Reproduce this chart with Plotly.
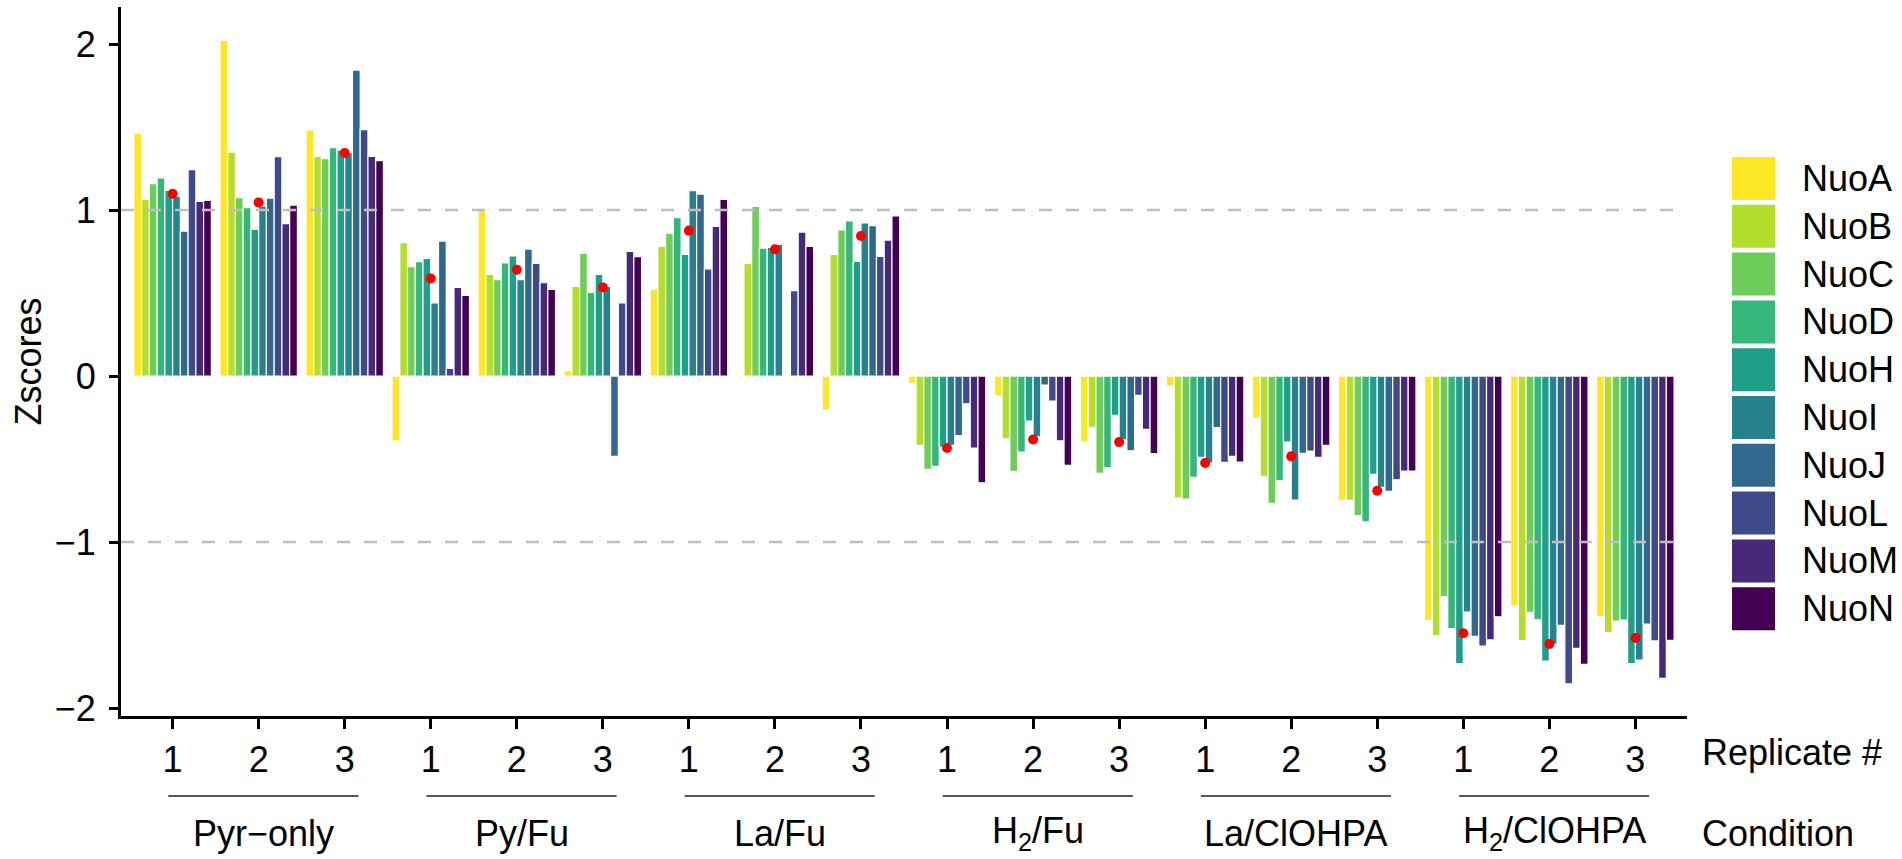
import plotly.graph_objects as go

# ---------------- data ----------------
conditions = ["Pyr\u2212only", "Py/Fu", "La/Fu", "H<sub>2</sub>/Fu", "La/ClOHPA", "H<sub>2</sub>/ClOHPA"]
replicates = ["1", "2", "3"]
genes = ["NuoA", "NuoB", "NuoC", "NuoD", "NuoH", "NuoI", "NuoJ", "NuoL", "NuoM", "NuoN"]
gene_colors = ["#FDE725", "#B4DE2C", "#6DCD59", "#35B779", "#1F9E89",
               "#26828E", "#31688E", "#3E4A89", "#482878", "#440154"]

nuoA = [1.462, 2.022, 1.482, -0.392, 1.000, 0.032, 0.522, 0.004, -0.205, -0.044, -0.118, -0.398, -0.060, -0.255, -0.749, -1.474, -1.386, -1.450]
nuoB = [1.064, 1.349, 1.323, 0.803, 0.612, 0.540, 0.783, 0.679, 0.733, -0.418, -0.378, -0.309, -0.735, -0.608, -0.749, -1.564, -1.594, -1.546]
nuoC = [1.159, 1.074, 1.309, 0.659, 0.580, 0.739, 0.861, 1.022, 0.881, -0.562, -0.574, -0.586, -0.741, -0.767, -0.841, -1.329, -1.424, -1.476]
nuoD = [1.193, 1.014, 1.376, 0.689, 0.681, 0.504, 0.954, 0.771, 0.934, -0.544, -0.458, -0.552, -0.610, -0.631, -0.878, -1.522, -1.468, -1.470]
nuoH = [1.118, 0.884, 1.361, 0.709, 0.723, 0.612, 0.733, 0.775, 0.691, -0.430, -0.271, -0.237, -0.490, -0.398, -0.592, -1.733, -1.717, -1.733]
nuoI = [1.084, 1.024, 1.345, 0.440, 0.580, 0.540, 1.116, 0.793, 0.922, -0.418, -0.367, -0.384, -0.524, -0.747, -0.671, -1.422, -1.617, -1.711]
nuoJ = [0.873, 1.072, 1.843, 0.813, 0.765, -0.484, 1.096, 0.006, 0.906, -0.359, -0.054, -0.450, -0.311, -0.466, -0.695, -1.568, -1.502, -1.494]
nuoL = [1.243, 1.321, 1.484, 0.046, 0.679, 0.440, 0.645, 0.514, 0.721, -0.167, -0.151, -0.116, -0.520, -0.452, -0.625, -1.627, -1.855, -1.596]
nuoM = [1.052, 0.918, 1.323, 0.534, 0.562, 0.751, 0.902, 0.867, 0.819, -0.434, -0.390, -0.321, -0.484, -0.490, -0.572, -1.590, -1.641, -1.821]
nuoN = [1.058, 1.030, 1.297, 0.486, 0.522, 0.719, 1.064, 0.781, 0.964, -0.643, -0.538, -0.468, -0.518, -0.418, -0.572, -1.450, -1.737, -1.592]
mean_z = [1.098, 1.046, 1.343, 0.588, 0.640, 0.534, 0.876, 0.763, 0.843, -0.434, -0.382, -0.398, -0.524, -0.484, -0.691, -1.550, -1.614, -1.578]

series = [nuoA, nuoB, nuoC, nuoD, nuoH, nuoI, nuoJ, nuoL, nuoM, nuoN]
threshold_lines = [1, -1]

# ---------------- figure ----------------
FONT = "Liberation Sans, Arial, Helvetica, sans-serif"
FS = 36

n_rep = len(replicates)
x_pos = list(range(len(conditions) * n_rep))
tick_text = [replicates[i % n_rep] for i in x_pos]

fig = go.Figure()
for name, vals, col in zip(genes, series, gene_colors):
    fig.add_trace(go.Bar(
        x=x_pos, y=vals, name=name, marker_color=col,
        marker_line_color="white", marker_line_width=1.2,
        showlegend=False,
    ))

fig.add_trace(go.Scatter(
    x=x_pos, y=mean_z, mode="markers",
    marker=dict(color="#FF0000", size=10, line_width=0),
    showlegend=False,
))

L, R, T, B = 121, 215, 7, 143
W, H = 1902, 859
pw, ph = W - L - R, H - T - B

def px_x(p):
    return (p - L) / pw

def px_y(p):
    return (H - B - p) / ph

shapes = []
for yv in threshold_lines:
    shapes.append(dict(type="line", xref="paper", yref="y", x0=0, x1=1, y0=yv, y1=yv,
                       line=dict(color="#BEBEBE", width=2.6, dash="13px,14px"), layer="above"))

annotations = []
# condition brackets and labels
for ci, cond in enumerate(conditions):
    first = ci * n_rep
    last = first + n_rep - 1
    x0, x1 = first - 0.05, last + 0.16
    shapes.append(dict(type="line", xref="x", yref="paper", x0=x0, x1=x1,
                       y0=px_y(796), y1=px_y(796), line=dict(color="#222222", width=1.6)))
    annotations.append(dict(x=(x0 + x1) / 2, y=px_y(833), xref="x", yref="paper",
                            text=cond, showarrow=False, xanchor="center", yanchor="middle",
                            font=dict(family=FONT, size=FS, color="black")))

annotations.append(dict(x=px_x(1700), y=px_y(753), xref="paper", yref="paper", text="Replicate #",
                        showarrow=False, xanchor="left", yanchor="middle",
                        font=dict(family=FONT, size=FS, color="black")))
annotations.append(dict(x=px_x(1700), y=px_y(833), xref="paper", yref="paper", text="Condition",
                        showarrow=False, xanchor="left", yanchor="middle",
                        font=dict(family=FONT, size=FS, color="black")))
annotations.append(dict(x=px_x(28), y=0.5, xref="paper", yref="paper", text="Zscores",
                        showarrow=False, textangle=-90, xanchor="center", yanchor="middle",
                        font=dict(family=FONT, size=FS, color="black")))

# legend (manual, large key boxes)
for k, (name, col) in enumerate(zip(genes, gene_colors)):
    top = 157 + 47.8 * k
    shapes.append(dict(type="rect", xref="paper", yref="paper",
                       x0=px_x(1732), x1=px_x(1775), y0=px_y(top + 43), y1=px_y(top),
                       fillcolor=col, line_width=0))
    annotations.append(dict(x=px_x(1800), y=px_y(top + 21.5), xref="paper", yref="paper",
                            text=name, showarrow=False, xanchor="left", yanchor="middle",
                            font=dict(family=FONT, size=FS, color="black")))

fig.update_layout(
    width=W, height=H,
    margin=dict(l=L, r=R, t=T, b=B, autoexpand=False),
    plot_bgcolor="white", paper_bgcolor="white",
    barmode="group", bargap=0.1, bargroupgap=0,
    font=dict(family=FONT, size=FS, color="black"),
    shapes=shapes, annotations=annotations,
    showlegend=False,
)
fig.update_xaxes(range=[-0.6, 17.6], tickmode="array", tickvals=x_pos, ticktext=tick_text,
                 showline=True, linecolor="black", linewidth=3, ticks="outside", ticklen=10,
                 tickwidth=3, tickcolor="black", showgrid=False, zeroline=False,
                 tickfont=dict(family=FONT, size=FS, color="black"))
fig.update_yaxes(range=[-2.048, 2.223], tickmode="array", tickvals=[-2, -1, 0, 1, 2],
                 showline=True, linecolor="black", linewidth=3, ticks="outside", ticklen=9,
                 tickwidth=3, tickcolor="black", showgrid=False, zeroline=False,
                 ticklabelstandoff=6,
                 tickfont=dict(family=FONT, size=FS, color="black"))

fig.write_html("out.html",
               config={"displayModeBar": False},
               post_script="document.body.style.margin='0';document.body.style.overflow='hidden';")
